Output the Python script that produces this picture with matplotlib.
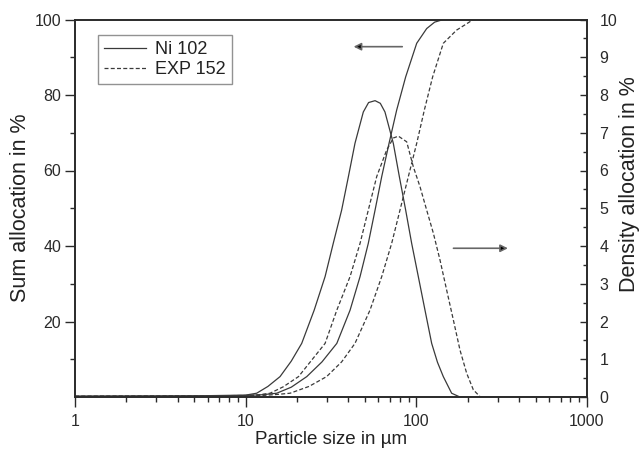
import matplotlib
matplotlib.use("Agg")
import matplotlib.pyplot as plt
from matplotlib.ticker import FixedLocator, NullFormatter, FixedFormatter

plt.rcParams['font.family'] = ['Liberation Sans', 'DejaVu Sans']

# ---- data ----
# Ni 102: cumulative (sum) distribution, % (left axis)
ni_sum_x = [1, 3, 6, 10, 12.5, 15.2, 18.5, 22.8, 28.0, 34.2, 40.9, 46.8, 52.3, 57.3,
            62.7, 69.2, 76.7, 86.6, 100.5, 115, 128, 144, 1000]
ni_sum_y = [0.2, 0.25, 0.3, 0.4, 0.6, 1.0, 2.6, 5.4, 9.3, 14.2, 23.0, 31.9, 40.7, 49.5,
            58.4, 67.2, 76.0, 84.8, 93.7, 97.6, 99.3, 100, 100]
# Ni 102: density distribution, % (right axis)
ni_den_x = [1, 5, 10, 11.6, 13.5, 15.9, 18.5, 21.3, 25.2, 29.2, 32.6, 36.5, 40.0, 43.7,
            48.9, 52.5, 57.3, 61.5, 65.5, 73.3, 79.5, 86.6, 93.9, 102.7, 112.4, 123.0,
            133, 143.9, 161, 180, 1000]
ni_den_y = [0.02, 0.03, 0.05, 0.10, 0.28, 0.54, 0.95, 1.42, 2.30, 3.19, 4.07, 4.95, 5.84, 6.72,
            7.55, 7.80, 7.85, 7.78, 7.55, 6.72, 5.84, 4.95, 4.07, 3.19, 2.30, 1.42,
            0.92, 0.54, 0.10, 0.0, 0.0]
# EXP 152: cumulative (sum) distribution, %
exp_sum_x = [1, 3, 6, 10, 13, 15.5, 18.2, 23.5, 29.8, 36.5, 43.7, 53.5, 62.7, 71.7, 80.2,
             89.8, 100.5, 111.4, 124.6, 143.9, 172.3, 216, 1000]
exp_sum_y = [0.15, 0.2, 0.25, 0.3, 0.45, 0.7, 1.0, 2.8, 5.4, 9.3, 14.2, 23.0, 31.9, 40.7, 49.5,
             58.4, 67.2, 76.0, 84.8, 93.7, 97.2, 100, 100]
# EXP 152: density distribution, %
exp_den_x = [1, 5, 10, 12, 13.9, 16.6, 20.4, 24.4, 29.2, 34.2, 40.9, 46.8, 52.3, 58.6, 67.0,
             73.3, 78.5, 87.8, 96.0, 105.1, 115.0, 125.8, 137.6, 150.6, 164.8, 180.3,
             197.2, 215.8, 236.1, 247.0, 1000]
exp_den_y = [0.02, 0.03, 0.04, 0.06, 0.10, 0.27, 0.54, 0.98, 1.42, 2.30, 3.19, 4.07, 4.95, 5.84, 6.54,
             6.86, 6.91, 6.76, 6.10, 5.57, 4.95, 4.34, 3.63, 2.83, 2.04, 1.24,
             0.63, 0.19, 0.01, 0.0, 0.0]

labels = ['Ni 102', 'EXP 152']
x_ticks = [1, 10, 100, 1000]
x_tick_labels = ['1', '10', '100', '1000']
left_ticks = [20, 40, 60, 80, 100]
right_ticks = list(range(0, 11))

line_col = '#3a3a3a'
axis_col = '#2a2a2a'
dash = (0, (3.2, 1.8))

fig = plt.figure(figsize=(6.41, 4.53), dpi=100)
ax = fig.add_axes([75 / 641, 1 - 397 / 453, 512 / 641, 377.5 / 453])
ax2 = ax.twinx()

ax.set_xscale('log')
ax.set_xlim(1, 1000)
ax.set_ylim(0, 100)
ax2.set_ylim(0, 10)

l1, = ax.plot(ni_sum_x, ni_sum_y, color=line_col, lw=0.9, ls='-')
l2, = ax.plot(exp_sum_x, exp_sum_y, color=line_col, lw=0.9, ls=dash)
ax2.plot(ni_den_x, ni_den_y, color=line_col, lw=0.9, ls='-')
ax2.plot(exp_den_x, exp_den_y, color=line_col, lw=0.9, ls=dash)

# ticks
ax.xaxis.set_major_locator(FixedLocator(x_ticks))
ax.xaxis.set_major_formatter(FixedFormatter(x_tick_labels))
ax.xaxis.set_minor_locator(FixedLocator([m * d for d in (1, 10, 100) for m in range(2, 10)]))
ax.xaxis.set_minor_formatter(NullFormatter())
ax.yaxis.set_major_locator(FixedLocator(left_ticks))
ax.yaxis.set_minor_locator(FixedLocator([10, 30, 50, 70, 90]))
ax2.yaxis.set_major_locator(FixedLocator(right_ticks))
ax2.yaxis.set_minor_locator(FixedLocator([i + 0.5 for i in range(10)]))

ax.tick_params(axis='x', which='major', direction='out', length=7, width=1.0, colors=axis_col,
               labelsize=11.5, pad=5, top=False)
ax.tick_params(axis='x', which='minor', direction='out', length=3.5, width=1.0, colors=axis_col, top=False)
ax.tick_params(axis='y', which='major', direction='out', length=7, width=1.0, colors=axis_col,
               labelsize=11.5, pad=3)
ax.tick_params(axis='y', which='minor', direction='out', length=3.5, width=1.0, colors=axis_col)
ax2.tick_params(axis='y', which='major', direction='in', length=5, width=1.0, colors=axis_col,
                labelsize=11.5, pad=9)
ax2.tick_params(axis='y', which='minor', direction='in', length=3, width=1.0, colors=axis_col)

for a in (ax, ax2):
    for s in a.spines.values():
        s.set_color(axis_col)
        s.set_linewidth(1.2)

# axis labels
fig.text(21 / 641, 1 - 207.5 / 453, 'Sum allocation in %', rotation=90, ha='center', va='center',
         fontsize=15.5, color='#222')
fig.text(630 / 641, 1 - 184 / 453, 'Density allocation in %', rotation=90, ha='center', va='center',
         fontsize=15.5, color='#222')
fig.text(331 / 641, 1 - 440 / 453, 'Particle size in µm', ha='center', va='center',
         fontsize=13.5, color='#222')

# legend
leg = ax.legend([l1, l2], labels, loc='upper left', bbox_to_anchor=(0.045, 0.959),
                borderaxespad=0, fontsize=13, frameon=True, fancybox=False,
                handlelength=2.3, handletextpad=0.5, labelspacing=0.15,
                borderpad=0.35, edgecolor='#777')
leg.get_frame().set_linewidth(1.0)
for t in leg.get_texts():
    t.set_color('#222')

# arrows
ax.annotate('', xy=(42.9, 92.8), xytext=(82.7, 92.8),
            arrowprops=dict(arrowstyle='-|>', lw=1.2, ec='#666', fc='black', mutation_scale=11,
                            shrinkA=0, shrinkB=0))
ax.annotate('', xy=(344, 39.4), xytext=(165, 39.4),
            arrowprops=dict(arrowstyle='-|>', lw=1.2, ec='#666', fc='black', mutation_scale=11,
                            shrinkA=0, shrinkB=0))

fig.savefig('out.png', dpi=100)
